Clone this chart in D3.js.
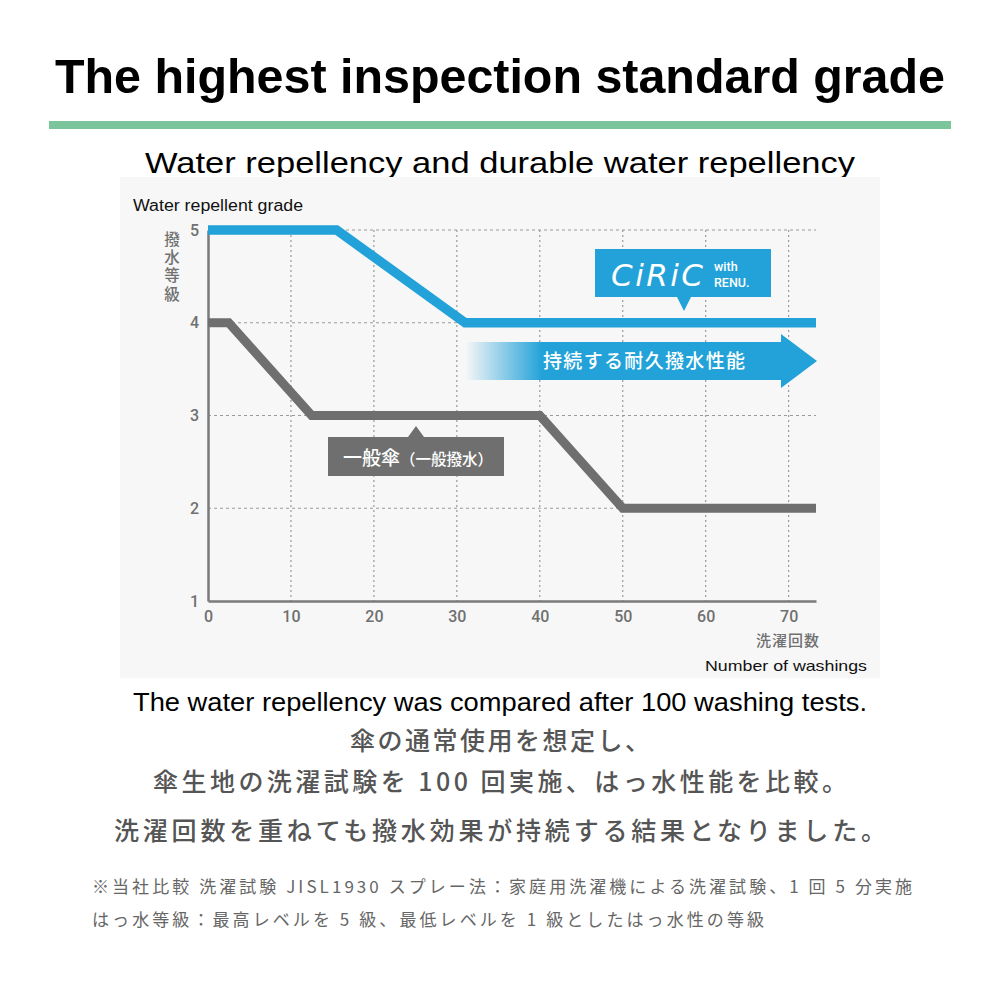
<!DOCTYPE html>
<html>
<head>
<meta charset="utf-8">
<script src="https://cdn.jsdelivr.net/npm/d3@7"></script>
<style>
  body { margin: 0; background: #fff; }
  svg { display: block; }
</style>
</head>
<body>
<div id="container-svg"></div>
<script>
// Data
const xTicks = [0, 10, 20, 30, 40, 50, 60, 70]
const yTicks = [1, 2, 3, 4, 5]
const ciricWash = [0, 15.5, 31, 73.3]
const ciricGrade = [5, 5, 4, 4]
const generalWash = [0, 2.5, 12.5, 40, 50, 73.3]
const generalGrade = [4, 4, 3, 3, 2, 2]

const BLUE = "#22a2d8"
const GRAY_LINE = "#6f6f6f"
const TICK_GRAY = "#707070"
const JP = "'Noto Sans CJK JP', 'Noto Sans', sans-serif"
const EN = "'Liberation Sans', Arial, sans-serif"

const width = 1000, height = 1000

const svg = d3.select("div#container-svg")
    .append("svg")
    .attr("width", width)
    .attr("height", height)

// Heading
svg.append("text")
    .attr("x", 500).attr("y", 93)
    .attr("text-anchor", "middle")
    .attr("font-family", EN).attr("font-weight", "bold").attr("font-size", 48)
    .attr("textLength", 890).attr("lengthAdjust", "spacingAndGlyphs")
    .attr("fill", "#000")
    .text("The highest inspection standard grade")

svg.append("rect")
    .attr("x", 49).attr("y", 121).attr("width", 902).attr("height", 8)
    .attr("fill", "#7bc59d")

svg.append("text")
    .attr("x", 500).attr("y", 173)
    .attr("text-anchor", "middle")
    .attr("font-family", EN).attr("font-size", 30)
    .attr("textLength", 710).attr("lengthAdjust", "spacingAndGlyphs")
    .attr("fill", "#000")
    .text("Water repellency and durable water repellency")

// Chart panel
svg.append("rect")
    .attr("x", 120).attr("y", 177).attr("width", 760).attr("height", 501)
    .attr("fill", "#f7f7f7")

svg.append("text")
    .attr("x", 133).attr("y", 211)
    .attr("font-family", EN).attr("font-size", 16)
    .attr("textLength", 170).attr("lengthAdjust", "spacingAndGlyphs")
    .attr("fill", "#111")
    .text("Water repellent grade")

const x = d3.scaleLinear().domain([0, 73.3]).range([208, 816])
const y = d3.scaleLinear().domain([1, 5]).range([601, 230])

const grid = svg.append("g")
grid.selectAll("line.vgrid")
    .data(xTicks.filter(d => d > 0))
    .join("line")
    .attr("class", "vgrid")
    .attr("x1", d => x(d)).attr("x2", d => x(d))
    .attr("y1", y(5)).attr("y2", y(1))
    .attr("stroke", "#9a9a9a").attr("stroke-width", 1.2)
    .attr("stroke-dasharray", "2,3")
grid.selectAll("line.hgrid")
    .data(yTicks.filter(d => d > 1))
    .join("line")
    .attr("class", "hgrid")
    .attr("x1", x(0)).attr("x2", x(73.3))
    .attr("y1", d => y(d)).attr("y2", d => y(d))
    .attr("stroke", "#9a9a9a").attr("stroke-width", 1.2)
    .attr("stroke-dasharray", "3,3")

// Axes
const xAxis = svg.append("g")
    .attr("transform", "translate(0," + y(1) + ")")
    .call(d3.axisBottom(x).tickValues(xTicks).tickSize(0).tickPadding(10).tickFormat(d3.format("d")))
xAxis.select(".domain").attr("stroke", "#7a7a7a").attr("stroke-width", 2.5)
xAxis.selectAll("text")
    .attr("font-family", "Roboto, sans-serif").attr("font-weight", 500)
    .attr("font-size", 16).attr("fill", TICK_GRAY)

const yAxis = svg.append("g")
    .attr("transform", "translate(" + x(0) + ",0)")
    .call(d3.axisLeft(y).tickValues(yTicks).tickSize(0).tickPadding(9).tickFormat(d3.format("d")))
yAxis.select(".domain").attr("stroke", "#7a7a7a").attr("stroke-width", 2.5)
yAxis.selectAll("text")
    .attr("font-family", "Roboto, sans-serif").attr("font-weight", 500)
    .attr("font-size", 16).attr("fill", TICK_GRAY)

// Vertical y title, one text set top-to-bottom
svg.append("text")
    .attr("x", 172).attr("y", 231)
    .attr("font-family", JP).attr("font-size", 15.5).attr("font-weight", 500)
    .attr("letter-spacing", 2.8)
    .style("writing-mode", "vertical-rl")
    .attr("fill", TICK_GRAY)
    .text("撥水等級")

svg.append("text")
    .attr("x", 788).attr("y", 646)
    .attr("text-anchor", "middle")
    .attr("font-family", JP).attr("font-size", 15).attr("font-weight", 500)
    .attr("letter-spacing", 1)
    .attr("fill", TICK_GRAY)
    .text("洗濯回数")

svg.append("text")
    .attr("x", 705).attr("y", 671)
    .attr("font-family", EN).attr("font-size", 15)
    .attr("textLength", 162).attr("lengthAdjust", "spacingAndGlyphs")
    .attr("fill", "#111")
    .text("Number of washings")

// Lines
const line = d3.line().x(d => x(d[0])).y(d => y(d[1]))
svg.append("path")
    .attr("d", line(d3.zip(generalWash, generalGrade)))
    .attr("fill", "none").attr("stroke", GRAY_LINE).attr("stroke-width", 9)
svg.append("path")
    .attr("d", line(d3.zip(ciricWash, ciricGrade)))
    .attr("fill", "none").attr("stroke", BLUE).attr("stroke-width", 9.5)

// Arrow with gradient tail
const defs = svg.append("defs")
const grad = defs.append("linearGradient").attr("id", "arrowGrad")
    .attr("x1", 0).attr("x2", 1).attr("y1", 0).attr("y2", 0)
grad.append("stop").attr("offset", "0%").attr("stop-color", BLUE).attr("stop-opacity", 0)
grad.append("stop").attr("offset", "22%").attr("stop-color", BLUE).attr("stop-opacity", 1)
grad.append("stop").attr("offset", "100%").attr("stop-color", BLUE).attr("stop-opacity", 1)

svg.append("path")
    .attr("d", "M465,342 L781,342 L781,334 L817,361 L781,388 L781,380 L465,380 Z")
    .attr("fill", "url(#arrowGrad)")
svg.append("text")
    .attr("x", 543).attr("y", 368)
    .attr("font-family", JP).attr("font-size", 19).attr("font-weight", 500)
    .attr("textLength", 202).attr("lengthAdjust", "spacing")
    .attr("fill", "#fff")
    .text("持続する耐久撥水性能")

// CiRiC callout
svg.append("path")
    .attr("d", "M595,249 L771,249 L771,297 L691,297 L684,311 L677,297 L595,297 Z")
    .attr("fill", BLUE)
svg.append("text")
    .attr("x", 611).attr("y", 286)
    .attr("font-family", "'DejaVu Sans', sans-serif").attr("font-size", 31)
    .attr("font-style", "italic")
    .attr("textLength", 92).attr("lengthAdjust", "spacing")
    .attr("fill", "#fff")
    .text("CiRiC")
svg.append("text")
    .attr("x", 714).attr("y", 271)
    .attr("font-family", "Roboto, sans-serif").attr("font-size", 12.5).attr("font-weight", 500)
    .attr("fill", "#fff")
    .text("with")
svg.append("text")
    .attr("x", 714).attr("y", 287)
    .attr("font-family", "Roboto, sans-serif").attr("font-size", 12.5).attr("font-weight", 500)
    .attr("fill", "#fff")
    .text("RENU.")

// General umbrella callout
svg.append("path")
    .attr("d", "M328,437 L408,437 L416,426 L424,437 L504,437 L504,476 L328,476 Z")
    .attr("fill", GRAY_LINE)
const gl = svg.append("text")
    .attr("x", 343).attr("y", 465)
    .attr("font-family", JP).attr("font-weight", 500)
    .attr("fill", "#fff")
gl.append("tspan").attr("font-size", 19).text("一般傘")
gl.append("tspan").attr("font-size", 15.5).text("（一般撥水）")

// Caption
svg.append("text")
    .attr("x", 500).attr("y", 711)
    .attr("text-anchor", "middle")
    .attr("font-family", EN).attr("font-size", 25)
    .attr("textLength", 734).attr("lengthAdjust", "spacingAndGlyphs")
    .attr("fill", "#000")
    .text("The water repellency was compared after 100 washing tests.")

const jpLines = [
    { t: "傘の通常使用を想定し、", y: 750, w: 300 },
    { t: "傘生地の洗濯試験を 100 回実施、はっ水性能を比較。", y: 791, w: 694 },
    { t: "洗濯回数を重ねても撥水効果が持続する結果となりました。", y: 840, w: 772 }
]
svg.append("g").selectAll("text")
    .data(jpLines)
    .join("text")
    .attr("x", 500).attr("y", d => d.y)
    .attr("text-anchor", "middle")
    .attr("font-family", JP).attr("font-size", 25).attr("font-weight", 500)
    .attr("textLength", d => d.w).attr("lengthAdjust", "spacing")
    .attr("fill", "#555")
    .text(d => d.t)

const notes = [
    { t: "※当社比較 洗濯試験 JISL1930 スプレー法：家庭用洗濯機による洗濯試験、1 回 5 分実施", w: 820 },
    { t: "はっ水等級：最高レベルを 5 級、最低レベルを 1 級としたはっ水性の等級", w: 672 }
]
svg.append("g").selectAll("text")
    .data(notes)
    .join("text")
    .attr("x", 92).attr("y", (d, i) => 893 + i * 33)
    .attr("font-family", JP).attr("font-size", 17)
    .attr("textLength", d => d.w).attr("lengthAdjust", "spacing")
    .attr("fill", "#666")
    .text(d => d.t)
</script>
</body>
</html>
